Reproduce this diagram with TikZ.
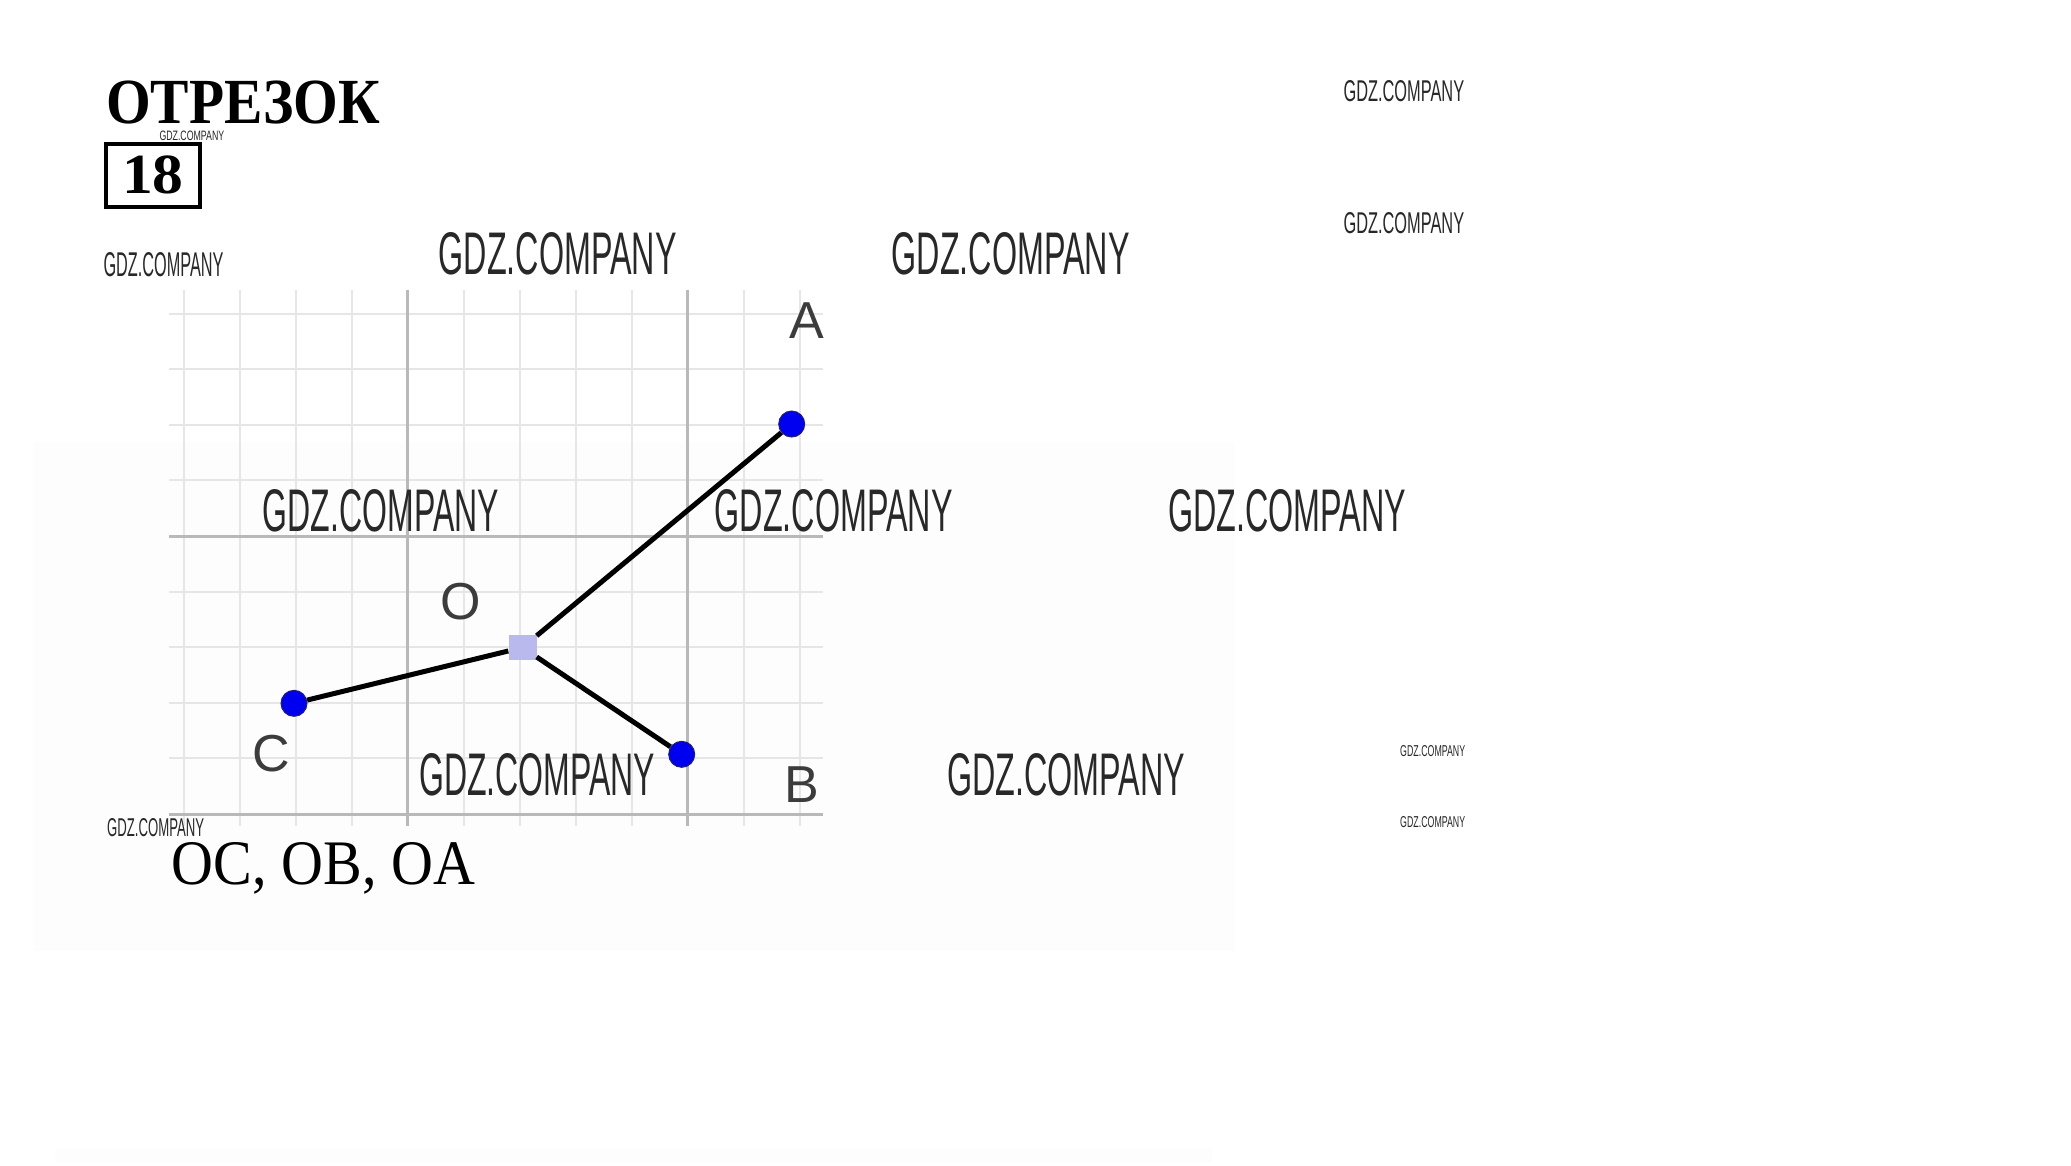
\documentclass[tikz,border=0pt]{standalone}
\usepackage{fontspec}
\setmainfont{Liberation Serif}
\newfontfamily\labfont{Liberation Sans}
\newfontfamily\wmfont{Liberation Sans}
\definecolor{gridminor}{RGB}{230,230,230}
\definecolor{gridmajor}{RGB}{185,185,185}
\definecolor{dotblue}{RGB}{0,0,240}
\definecolor{dotedge}{RGB}{30,30,120}
\definecolor{osquare}{RGB}{185,185,238}
\definecolor{labgray}{RGB}{60,60,60}
\definecolor{faintbg}{RGB}{253,253,253}
\definecolor{wmcolor}{RGB}{40,40,40}
\newcommand{\wmark}[2]{\resizebox{#1pt}{#2pt}{\wmfont GDZ.COMPANY}}
\tikzset{
  minorgrid/.style={line width=2pt, draw=gridminor},
  majorgrid/.style={line width=3pt, draw=gridmajor},
  seg/.style={line width=5pt, draw=black},
  ptdot/.style={circle, fill=dotblue, draw=dotedge, line width=1pt, minimum size=26pt, inner sep=0pt},
  osq/.style={rectangle, fill=osquare, minimum width=28pt, minimum height=25pt, inner sep=0pt},
  ptlabel/.style={font=\labfont\fontsize{52}{52}\selectfont, text=labgray, inner sep=0pt},
  wm/.style={inner sep=0pt, anchor=north west, text=wmcolor},
  plain/.style={inner sep=0pt, anchor=north west},
}
\begin{document}
\begin{tikzpicture}[x=1pt, y=-1pt]
\useasboundingbox (0,0) rectangle (2071,1165);
\fill[white] (0,0) rectangle (2071,1165);
% faint background panels
\fill[faintbg] (33,442) rectangle (1235,951);
\fill[faintbg] (55,1148) rectangle (1212,1162);
% grid
\foreach \k in {-4,...,7} {
  \draw[minorgrid] ({407.8+56*\k},290) -- ({407.8+56*\k},826);
}
\foreach \j in {-4,...,5} {
  \draw[minorgrid] (169,{536+55.6*\j}) -- (823,{536+55.6*\j});
}
\draw[majorgrid] (407.8,290) -- (407.8,826);
\draw[majorgrid] (687.8,290) -- (687.8,826);
\draw[majorgrid] (169,536) -- (823,536);
\draw[majorgrid] (169,814) -- (823,814);
% title and number
\node[plain] (title) at (106,80.7) {\resizebox{274pt}{42.6pt}{\bfseries ОТРЕЗОК}};
\node[draw, line width=4pt, rectangle, minimum width=93.7pt, minimum height=63.3pt, inner sep=0pt] (num) at (152.85,175.35) {\resizebox{61.6pt}{37.7pt}{\bfseries 18}};
% points
\node[ptdot] (A) at (791.7,424) {};
\node[ptdot] (B) at (681.7,754.3) {};
\node[ptdot] (C) at (294,703.3) {};
\node[osq] (O) at (522.5,647.5) {};
\draw[seg] (O) -- (A);
\draw[seg] (O) -- (B);
\draw[seg] (O) -- (C);
% labels
\node[ptlabel] (lA) at (807,320.5) {A};
\node[ptlabel] (lB) at (801.7,785) {B};
\node[ptlabel] (lC) at (270.8,754) {C};
\node[ptlabel] (lO) at (461,601.7) {O};
% answer
\node[plain] (ans) at (171.7,842) {\resizebox{303pt}{42pt}{OC, OB, OA}};
% watermarks
\node[wm] (w1) at (438.5,232) {\wmark{238}{42}};
\node[wm] (w2) at (891.5,232) {\wmark{238}{42}};
\node[wm] (w3) at (262.7,489) {\wmark{236}{42}};
\node[wm] (w4) at (714.6,489) {\wmark{238}{42}};
\node[wm] (w5) at (1168,489) {\wmark{238}{42}};
\node[wm] (w6) at (419,753) {\wmark{236}{42}};
\node[wm] (w7) at (947,753) {\wmark{238}{42}};
\node[wm] (w8) at (103.3,252.7) {\wmark{120}{24}};
\node[wm] (w9) at (1343.3,80.7) {\wmark{120.7}{21}};
\node[wm] (w10) at (1343.3,212.7) {\wmark{120.7}{21}};
\node[wm] (w11) at (107,818) {\wmark{97}{18}};
\node[wm] (w12) at (159.3,130.5) {\wmark{64.7}{9.5}};
\node[wm] (w13) at (1400,745) {\wmark{65}{11}};
\node[wm] (w14) at (1400,816.7) {\wmark{65}{11}};
\end{tikzpicture}
\end{document}
